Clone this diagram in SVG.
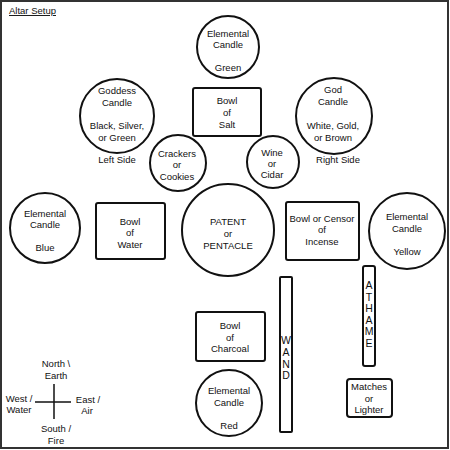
<svg xmlns="http://www.w3.org/2000/svg" width="450" height="450" viewBox="0 0 450 450">
<style>
text{font-family:"Liberation Sans",Arial,sans-serif;font-size:9.5px;fill:#111;text-anchor:middle}
.v text{font-size:10.5px}
.n circle,.n rect{fill:#fff;stroke:#111;stroke-width:2}
.l{stroke:#111;stroke-width:1.5}
</style>
<rect x="1" y="1" width="447" height="447" fill="#fff" stroke="#333" stroke-width="2"/>
<text x="9" y="14" style="text-anchor:start;text-decoration:underline">Altar Setup</text>

<g class="n" id="green">
<circle cx="228" cy="47" r="31"/>
<text x="228" y="36.5">Elemental</text><text x="228" y="47.5">Candle</text><text x="228" y="70.5">Green</text>
</g>
<g class="n" id="salt">
<rect x="193" y="88" width="68" height="48" rx="2"/>
<text x="227" y="104">Bowl</text><text x="227" y="115.5">of</text><text x="227" y="127.5">Salt</text>
</g>
<g class="n" id="goddess">
<circle cx="117" cy="116" r="37"/>
<text x="117" y="93.5">Goddess</text><text x="117" y="105.5">Candle</text><text x="117" y="128.5">Black, Silver,</text><text x="117" y="140.5">or Green</text>
<text x="117" y="162.5">Left Side</text>
</g>
<g class="n" id="god">
<circle cx="334" cy="116" r="38"/>
<text x="333" y="92.5">God</text><text x="333" y="104.5">Candle</text><text x="333" y="128.5">White, Gold,</text><text x="333" y="140.5">or Brown</text>
<text x="338" y="162.5">Right Side</text>
</g>
<g class="n" id="crackers">
<circle cx="178" cy="163" r="28"/>
<text x="177" y="156.5">Crackers</text><text x="177" y="167.5">or</text><text x="177" y="179.5">Cookies</text>
</g>
<g class="n" id="wine">
<circle cx="273" cy="162" r="26"/>
<text x="272" y="155.5">Wine</text><text x="272" y="166.5">or</text><text x="272" y="177.5">Cidar</text>
</g>
<g class="n" id="patent">
<circle cx="228" cy="230" r="46"/>
<text x="228" y="224.5">PATENT</text><text x="228" y="236.5">or</text><text x="228" y="248.5">PENTACLE</text>
</g>
<g class="n" id="water">
<rect x="96" y="203" width="69" height="56" rx="2"/>
<text x="130" y="224.5">Bowl</text><text x="130" y="235.5">of</text><text x="130" y="247.5">Water</text>
</g>
<g class="n" id="blue">
<circle cx="45" cy="228" r="35"/>
<text x="45" y="216.5">Elemental</text><text x="45" y="227.5">Candle</text><text x="45" y="250.5">Blue</text>
</g>
<g class="n" id="incense">
<rect x="286" y="202" width="73" height="58" rx="2"/>
<text x="322" y="221.5">Bowl or Censor</text><text x="322" y="232.5">of</text><text x="322" y="244.5">Incense</text>
</g>
<g class="n" id="yellow">
<circle cx="407" cy="231" r="38"/>
<text x="407" y="219.5">Elemental</text><text x="407" y="231.5">Candle</text><text x="407" y="254.5">Yellow</text>
</g>
<g class="n v" id="athame">
<rect x="363" y="266" width="12" height="100" rx="2"/>
<text x="369" y="289">A</text><text x="369" y="300.5">T</text><text x="369" y="312">H</text><text x="369" y="323.5">A</text><text x="369" y="335">M</text><text x="369" y="346.5">E</text>
</g>
<g class="n v" id="wand">
<rect x="280" y="277" width="12" height="155" rx="1"/>
<text x="286" y="344">W</text><text x="286" y="356">A</text><text x="286" y="367.5">N</text><text x="286" y="379">D</text>
</g>
<g class="n" id="charcoal">
<rect x="196" y="312" width="69" height="49" rx="2"/>
<text x="230" y="328.5">Bowl</text><text x="230" y="340.5">of</text><text x="230" y="351.5">Charcoal</text>
</g>
<g class="n" id="red">
<circle cx="229" cy="403" r="33"/>
<text x="229" y="393.5">Elemental</text><text x="229" y="405.5">Candle</text><text x="229" y="428.5">Red</text>
</g>
<g class="n" id="matches">
<rect x="347" y="379" width="45" height="38" rx="3"/>
<text x="369" y="389.5">Matches</text><text x="369" y="401.5">or</text><text x="369" y="412.5">Lighter</text>
</g>

<g id="compass">
<line class="l" x1="54" y1="384" x2="54" y2="419"/>
<line class="l" x1="35" y1="402" x2="71" y2="402"/>
<text x="56" y="366.5">North \</text><text x="56" y="378.5">Earth</text>
<text x="19" y="401.5">West /</text><text x="19" y="412.5">Water</text>
<text x="88" y="402.5">East /</text><text x="87" y="413.5">Air</text>
<text x="56" y="431.5">South /</text><text x="56" y="443.5">Fire</text>
</g>
</svg>
